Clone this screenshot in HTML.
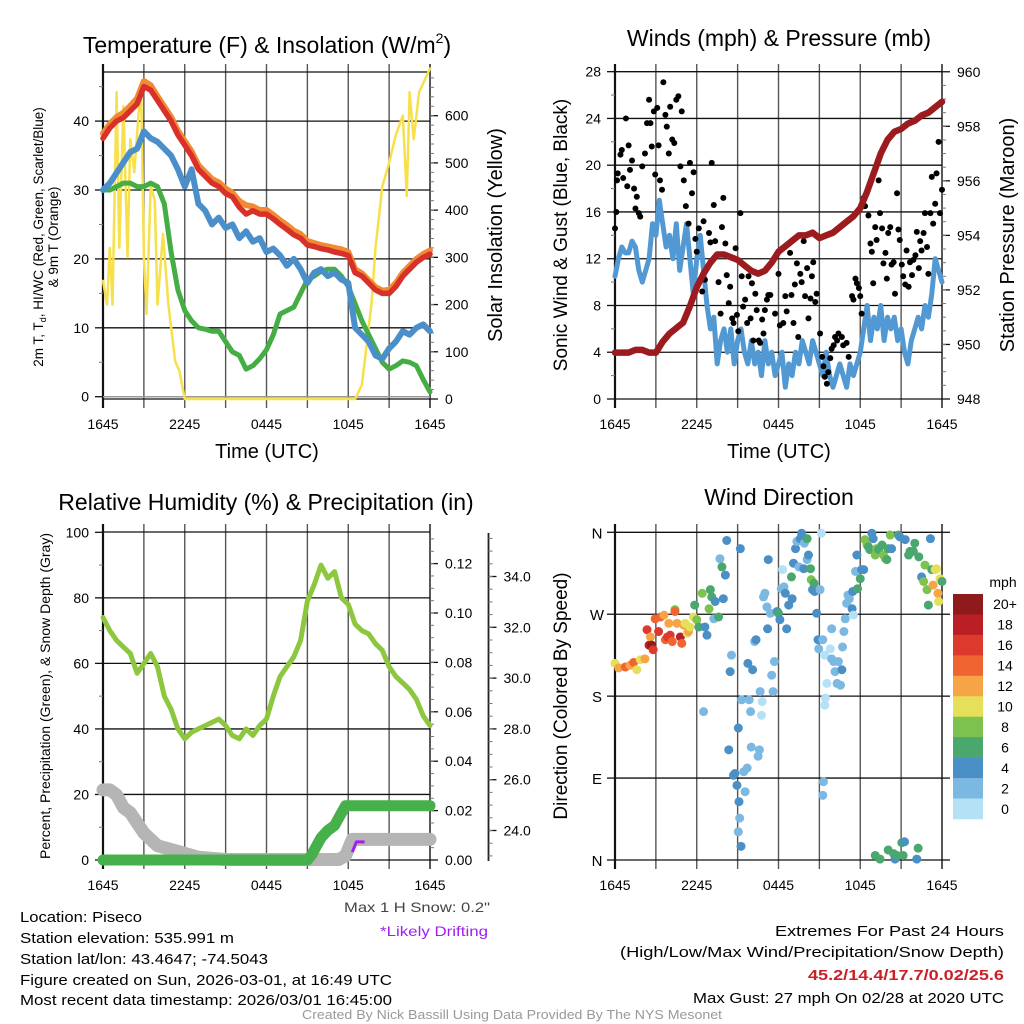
<!DOCTYPE html>
<html><head><meta charset="utf-8">
<style>
html,body{margin:0;padding:0;background:#fff;}
svg{display:block;font-family:"Liberation Sans",sans-serif;}
</style></head>
<body>
<svg id="root" width="1024" height="1024" viewBox="0 0 1024 1024" xmlns="http://www.w3.org/2000/svg">
<g id="texts">
<text x="267" y="53" font-size="23" text-anchor="middle">Temperature (F) &amp; Insolation (W/m<tspan font-size="14" dy="-10">2</tspan><tspan dy="10">)</tspan></text>
<text x="779" y="46" font-size="23" text-anchor="middle">Winds (mph) &amp; Pressure (mb)</text>
<text x="266" y="510" font-size="23" text-anchor="middle">Relative Humidity (%) &amp; Precipitation (in)</text>
<text x="779" y="505" font-size="23" text-anchor="middle">Wind Direction</text>
<text x="267" y="458" font-size="20" text-anchor="middle">Time (UTC)</text>
<text x="779" y="458" font-size="20" text-anchor="middle">Time (UTC)</text>
<text transform="translate(43,237) rotate(-90)" font-size="13.5" text-anchor="middle">2m T, T<tspan font-size="9" dy="3">d</tspan><tspan dy="-3">, HI/WC (Red, Green, Scarlet/Blue)</tspan></text>
<text transform="translate(58,237) rotate(-90)" font-size="13.5" text-anchor="middle">&amp; 9m T (Orange)</text>
<text transform="translate(502,235) rotate(-90)" font-size="20" text-anchor="middle">Solar Insolation (Yellow)</text>
<text transform="translate(567,235) rotate(-90)" font-size="19" text-anchor="middle">Sonic Wind &amp; Gust (Blue, Black)</text>
<text transform="translate(1014,235) rotate(-90)" font-size="20" text-anchor="middle">Station Pressure (Maroon)</text>
<text transform="translate(50,696) rotate(-90)" font-size="14" text-anchor="middle">Percent, Precipitation (Green), &amp; Snow Depth (Gray)</text>
<text transform="translate(567,696) rotate(-90)" font-size="19" text-anchor="middle">Direction (Colored By Speed)</text>
<text x="1003" y="587" font-size="14" text-anchor="middle">mph</text>
<text x="490" y="912" font-size="14" fill="#444" text-anchor="end" textLength="146" lengthAdjust="spacingAndGlyphs">Max 1 H Snow: 0.2"</text>
<text x="488" y="936" font-size="14" fill="#a020f0" text-anchor="end" textLength="108" lengthAdjust="spacingAndGlyphs">*Likely Drifting</text>
<g font-size="15">
<text x="20" y="922" textLength="122" lengthAdjust="spacingAndGlyphs">Location: Piseco</text>
<text x="20" y="943" textLength="214" lengthAdjust="spacingAndGlyphs">Station elevation: 535.991 m</text>
<text x="20" y="964" textLength="248" lengthAdjust="spacingAndGlyphs">Station lat/lon: 43.4647; -74.5043</text>
<text x="20" y="985" textLength="372" lengthAdjust="spacingAndGlyphs">Figure created on Sun, 2026-03-01, at 16:49 UTC</text>
<text x="20" y="1005" textLength="372" lengthAdjust="spacingAndGlyphs">Most recent data timestamp: 2026/03/01 16:45:00</text>
</g>
<g font-size="15" text-anchor="end">
<text x="1004" y="936" textLength="229" lengthAdjust="spacingAndGlyphs">Extremes For Past 24 Hours</text>
<text x="1004" y="957" textLength="384" lengthAdjust="spacingAndGlyphs">(High/Low/Max Wind/Precipitation/Snow Depth)</text>
<text x="1004" y="980" font-weight="bold" fill="#cc2027" textLength="196" lengthAdjust="spacingAndGlyphs">45.2/14.4/17.7/0.02/25.6</text>
<text x="1004" y="1003" textLength="311" lengthAdjust="spacingAndGlyphs">Max Gust: 27 mph On 02/28 at 2020 UTC</text>
</g>
<text x="512" y="1019" font-size="12.5" fill="#999" text-anchor="middle" textLength="420" lengthAdjust="spacingAndGlyphs">Created By Nick Bassill Using Data Provided By The NYS Mesonet</text>
</g>
</svg>
<script>
// ---------- DATA ----------
const xTickLabels = ["1645","2245","0445","1045","1645"];
// Panel 1 (half-hourly from 1645)
const temp2m = [37.5,39,40,40.5,41.5,42.5,45,44.5,43,41.5,40,38,36.5,35,33,32,31,30.5,29.5,29,27.5,26.5,27,26.5,26.5,25.8,25,24.3,23.5,23,22,21.8,21.5,21.3,21,20.8,20.5,18,17.5,16.5,15.5,15,15,16,17.5,18.5,19.5,20.2,20.7];
const temp9m = [38.2,39.6,40.6,41.2,42.2,43.3,45.8,45.2,43.6,42.1,40.6,38.6,37.1,35.6,33.6,32.6,31.6,31.1,30.2,29.6,28.4,27.8,27.6,27.1,27.1,26.4,25.6,24.9,24.1,23.6,22.6,22.3,22.0,21.8,21.6,21.4,21.0,18.5,17.9,16.9,15.9,15.4,15.5,16.5,18,19,20,20.7,21.2];
const windChill = [30,31,32.5,34,35.5,36,38.5,37.5,37,36,35,33,30.5,33,28,27,25,26,24.5,25,23,24,22.5,23,21,21.5,20.5,19,20,18.5,16.5,18,18.5,17.5,18,17,16.5,10,9,8,6,5.5,7,8,9.5,9,10,10.5,9.5];
const dewPoint = [30,30,30.5,31,31,30.5,30.5,31,30.5,28,21,15.5,12.5,11,10,9.8,9.5,9.5,8,6.5,6,4,4.5,5.5,6.8,9,12,12.5,13,15,17,17.5,18.2,18.5,18.5,17.5,16,13.5,11,9,7,5,4,4.5,5.2,5,4.5,2.5,0.7];
const solarT = [0,0.3,0.5,0.7,1,1.2,1.5,1.8,2,2.3,2.6,2.8,3,3.2,3.5,3.8,4,4.4,4.8,5.3,5.6,6,18.5,19,19.7,20,20.5,21,21.5,22,22.3,22.5,22.8,23.2,24];
const solarV = [250,200,320,200,650,320,620,300,550,480,600,650,300,180,450,420,200,350,200,80,60,0,0,30,200,320,450,500,560,600,430,650,550,650,700];
// Panel 2 (wind speed quarter-hourly)
const windSpeed = [10.5,12,13,12.5,12.5,13.5,13,11,10,11,12,15,14,17,15,13,14,12,15,11,13,15,12,9,12,14,11,8,6,7,3,5,6,4,6,3,5,6,4,3,5,3,4,2,5,3,4,2,3,4,1,3,2,4,3,5,4,3,5,4,3,2,4,2,1,2,3,2,1,3,2,3,4,6,8,5,7,6,8,5,7,6,7,5,6,4,3,5,6,7,6,8,7,9,12,11,10];
const pressure = [949.7,949.7,949.7,949.8,949.8,949.7,949.7,950.1,950.4,950.6,950.8,951.4,952.1,952.6,953.0,953.3,953.3,953.2,953.1,952.9,952.7,952.6,952.7,953.0,953.4,953.6,953.8,954.0,954.0,954.1,953.9,954.0,954.1,954.3,954.5,954.7,955.0,955.6,956.3,957.0,957.5,957.8,957.9,958.1,958.2,958.4,958.5,958.7,958.9];
const gustT = [0,0.1,0.15,0.2,0.4,0.5,0.8,0.6,0.9,1,1.1,1.25,1.4,1.5,1.6,1.75,1.85,2,2.2,2.35,2.5,2.6,2.7,2.85,2.95,3.1,3.2,3.3,3.45,3.55,3.7,3.8,3.95,4.05,4.2,4.35,4.5,4.65,4.8,4.9,5.05,5.2,5.4,5.5,5.65,5.77,5.9,6,6.15,6.4,6.5,6.6,6.9,7,7.1,7.25,7.35,7.6,7.75,7.85,7.95,8.1,8.2,8.35,8.45,8.6,8.7,8.85,8.95,9.05,9.2,9.3,9.4,9.55,9.7,9.8,9.95,10.05,10.15,10.3,10.4,10.55,10.65,10.8,10.9,11,11.15,11.25,11.4,11.75,12,12.1,12.35,12.5,12.6,12.85,12.95,13.1,13.2,13.35,13.45,13.6,13.7,13.85,13.95,14.1,14.2,14.35,14.45,14.55,14.7,14.8,15.05,15.2,15.3,15.4,15.55,15.65,15.8,15.9,16.05,16.15,16.3,16.4,16.65,16.75,17,17.15,17.4,17.5,17.65,17.75,17.9,18,18.1,18.25,18.35,18.6,18.75,18.85,18.95,19.1,19.2,19.35,19.45,19.6,19.7,19.85,19.95,20.05,20.2,20.3,20.45,20.55,20.7,20.8,20.9,21.05,21.15,21.3,21.4,21.55,21.65,21.8,21.9,22.05,22.15,22.3,22.4,22.5,22.65,22.75,22.9,23,23.15,23.25,23.35,23.5,23.6,23.75,23.85,24];
const gustV = [14.6,16,18.7,19.3,20.9,21.3,24,18.9,18.2,21.7,19.6,20.4,18,16.3,17.3,15.9,15.6,19.9,21,23.6,25.6,23.6,21.6,24.6,19.2,24.9,21.7,18.7,17.9,27.1,24.3,23.3,21,25,22.2,21.9,25.6,25.9,19.9,24.6,18.7,16.5,15,20.2,17.6,19.4,13.7,12.6,14.6,9.2,15.2,10.2,14.2,13.4,20.2,16.6,13.5,10,7.3,14.7,17.2,13.3,10.6,8.2,9.6,6.9,6.5,12.9,7.2,5.8,15.9,10.5,7.9,8.5,6.5,10.5,6.9,9.9,5,9,7.6,5,4.8,6.8,5.6,7.6,8.5,8.9,8.9,7.3,10.7,6.3,6.5,8.8,7.5,12.5,8.9,6.5,9.8,11.6,5.3,10.7,10,13.5,8.8,11.2,6.9,8.6,10.5,11.7,8.3,9,5.6,3.6,2.8,1.9,1.3,2.3,3.5,4.3,4.6,5.3,5,5.6,5.3,4.6,4.8,3.6,8.8,8.5,10.3,9.9,9.5,8.8,7.3,17.2,16.5,15.7,13.3,12.6,9.9,14.7,13.6,18.7,15.9,14.6,11.6,12.5,10.3,14.2,14.7,11.5,11.7,9,17.6,14.5,13.6,11.5,10.5,9.8,12.7,9.6,11.7,10.6,11.9,12.3,14.3,11.2,13.5,12.7,14.2,15.9,13,10.7,15.9,19,15,16.7,19.3,22,15.9,17.9];
// Panel 3
const relHum = [74,70,67,65,63,57,60,63,59,50,46,40,37,39,40,41,42,43,41,38,37,40,38,41,43,50,56,59,62,67,79,84,90,86,88,80,78,72,70,69,66,64,59,56,54,52,49,44,41];
const snowT = [0,0.5,1,1.5,2,2.5,3,4,5,6,7,8,9,17.3,17.8,18.3,24];
const snowV = [25.6,25.6,25.4,24.9,24.7,24.3,23.9,23.4,23.25,23.1,22.95,22.9,22.86,22.86,23.0,23.65,23.65];
const driftT = [18.3,18.6,19.2];
const driftV = [23.15,23.55,23.55];
const precipT = [0,15,15.3,15.7,16,16.5,17,17.5,17.8,24];
const precipV = [0,0,0.002,0.006,0.009,0.012,0.014,0.019,0.022,0.022];
// Panel 4
const dirT = [0,0.27,0.76,1.1,1.37,1.6,1.86,2.2,2.35,2.5,2.6,2.7,2.8,2.95,3.2,3.35,3.6,3.7,3.85,3.95,4.05,4.2,4.4,4.4,4.55,4.8,4.9,5.05,5.15,5.3,5.4,5.5,5.75,5.85,6,6.15,6.4,6.5,6.6,6.75,6.9,7,7.1,7.25,7.35,7.6,7.7,7.85,7.95,8.1,8.2,8.35,8.45,8.55,8.7,8.8,8.95,9.05,9.1,9.2,9.15,9.25,9.05,9.3,9.45,9.55,9.7,9.75,9.85,9.95,10,10.1,10.25,10.35,10.5,10.6,10.65,10.8,10.75,10.9,11,11.15,11.2,11.25,11.4,11.5,11.6,11.7,11.9,12,12.1,12.2,12.3,12.4,12.5,12.6,12.75,12.95,13,13.1,13.25,13.35,13.5,13.6,13.7,13.85,13.9,14.1,14.1,14.2,14.35,14.4,14.5,14.6,14.65,14.8,14.9,14.95,15.05,15.15,15.25,15.4,15.45,15.4,15.3,15.25,15.55,15.8,15.9,15.9,16.05,16.15,16.3,16.4,16.55,16.65,16.7,16.8,16.9,17,17.1,17.2,17.4,17.45,17.5,17.65,17.75,17.8,18,18.1,18.25,18.35,18.5,18.6,18.7,18.85,18.95,19.1,19.2,19.35,19.6,19.7,19.85,19.95,20.05,20.2,20.3,20.8,20.9,21.3,21.55,21.65,21.9,22,22.3,22.5,22.65,22.75,22.9,23,23.15,23.25,23.35,23.5,23.6,23.7,23.75,23.85,24,19.1,19.45,20.05,20.45,20.55,20.7,21.05,21.25,21.15,22.15,22.25];
const dirDeg = [216,211,212,214,217,209,220,221,253,236,245,236,231,265,251,267,269,242,245,260,247,240,275,273,260,245,238,258,260,249,251,256,267,280,264,256,293,163,256,247,276,297,289,265,284,267,331,322,287,313,351,121,207,225,93,95,82,145,64,342,46,15,31,176,97,75,101,216,176,163,124,209,240,242,114,121,185,174,159,289,293,278,254,330,271,203,185,218,273,271,264,298,319,300,293,254,280,311,287,326,342,350,322,353,359,320,348,353,330,335,320,308,297,304,295,271,242,232,297,359,242,225,178,170,86,71,194,232,221,254,218,207,194,218,192,209,234,251,265,282,291,287,276,295,269,317,335,298,309,319,319,352,346,344,341,359,353,335,342,341,346,335,331,330,342,357,342,357,355,352,335,339,339,348,333,311,306,324,297,280,353,319,302,319,320,293,284,309,306,5,1,11,7,1,5,19,20,5,1,13];
const dirSpeed = [10,12,14,12,14,10,10,12,16,18,12,20,16,14,16,14,12,14,16,12,16,14,8,14,12,18,14,12,10,10,12,10,10,6,8,6,8,2,4,4,8,6,6,2,4,6,2,6,4,4,4,4,4,2,4,4,4,4,4,4,2,4,2,2,2,2,2,4,2,2,2,4,2,4,2,2,2,0,0,2,2,2,4,4,2,2,2,2,4,6,4,2,0,2,4,4,4,6,4,4,4,2,2,4,4,4,2,6,2,4,6,8,4,6,4,4,4,2,2,0,2,0,0,0,2,2,0,0,2,2,2,2,2,2,2,4,2,2,2,2,2,2,4,4,0,2,4,6,6,4,4,8,8,6,6,4,4,8,8,6,6,8,8,6,6,8,4,6,4,4,6,6,6,6,6,4,8,8,8,6,4,6,12,10,10,12,10,10,6,6,6,6,6,4,6,6,4,6,4,6];
const cbarLabels = ["20+","18","16","14","12","10","8","6","4","2","0"];
const cbarColors = ["#8e1a1c","#bb1f26","#dc3a2c","#ef6431","#f6a546","#e6df5a","#7dc14f","#4aa76d","#4a8fc6","#7bb8e2","#b5e1f6"];

// ---------- DRAW ----------
const NS = "http://www.w3.org/2000/svg";
const root = document.getElementById("root");
function mk(tag, attrs, parent){
  const e = document.createElementNS(NS, tag);
  for (const k in attrs) e.setAttribute(k, attrs[k]);
  (parent||root).appendChild(e);
  return e;
}
const W = 327;
function hx(x0){ return h => x0 + h * W / 24; }
function seriesPath(ts, vs, fx, fy){
  return ts.map((t,i)=> (i? "L":"M") + fx(t).toFixed(1) + "," + fy(vs[i]).toFixed(1)).join(" ");
}
function evenT(arr){ return arr.map((_,i)=> i*24/(arr.length-1)); }

function frame(x0, yTop, yBot, name, hGridYs){
  const g = mk("g", {});
  
  
  for (let k=0;k<=8;k++){
    const x = x0 + k*W/8;
    const l = mk("line",{x1:x,x2:x,y1:yTop-8,y2:yBot+9,stroke: (k===0||k===8)?"#111":"#555","stroke-width":(k===0)?2.2:1.4},g);
    
    
  }
  hGridYs.forEach(y=>{
    const l = mk("line",{x1:x0,x2:x0+W,y1:y,y2:y,stroke:"#111","stroke-width":1.3},g);
    
    
  });
  xTickLabels.forEach((lab,i)=>{
    const t = mk("text",{x:x0+i*W/4,y:yBot+30,"font-size":14,"text-anchor":"middle"},g);
    t.textContent = lab;
    
    
  });
  return g;
}
function leftAxis(x0, fy, majors, minors, fmt, name){
  const g = mk("g",{});
  
  
  majors.forEach(v=>{
    mk("line",{x1:x0-8,x2:x0,y1:fy(v),y2:fy(v),stroke:"#111","stroke-width":1.3},g);
    const t = mk("text",{x:x0-14,y:fy(v)+5,"font-size":14,"text-anchor":"end"},g);
    t.textContent = fmt(v);
    
    
  });
  minors.forEach(v=> mk("line",{x1:x0-4,x2:x0,y1:fy(v),y2:fy(v),stroke:"#777","stroke-width":1},g));
}
function rightAxis(x, fy, majors, minors, fmt, name, yTop, yBot, drawLine){
  const g = mk("g",{});
  
  
  if (drawLine) mk("line",{x1:x,x2:x,y1:yTop,y2:yBot,stroke:"#222","stroke-width":1.8},g);
  majors.forEach(v=>{
    mk("line",{x1:x,x2:x+8,y1:fy(v),y2:fy(v),stroke:"#111","stroke-width":1.3},g);
    const t = mk("text",{x:x+15,y:fy(v)+5,"font-size":14},g);
    t.textContent = fmt(v);
    
    
  });
  minors.forEach(v=> mk("line",{x1:x,x2:x+4,y1:fy(v),y2:fy(v),stroke:"#777","stroke-width":1},g));
}
function range(a,b,s){ const r=[]; for(let v=a; v<=b+1e-9; v+=s) r.push(+v.toFixed(4)); return r; }
function line(d, color, w, name, cap){
  const p = mk("path",{d:d,fill:"none",stroke:color,"stroke-width":w,"stroke-linejoin":"round","stroke-linecap":cap||"round"});
  
  
  return p;
}

// Panel 1
{
  const fx = hx(103);
  const fy = v => 396.7 - v*6.89;
  const fyR = v => 399 - v*0.4722;
  frame(103, 72, 399, "temp", [72, fy(10), fy(20), fy(30), fy(40), 399]);
  mk("line",{x1:103,x2:430,y1:fy(0),y2:fy(0),stroke:"#999","stroke-width":1.5});
  leftAxis(103, fy, [0,10,20,30,40], [5,15,25,35,45], v=>String(v), "temp-y-axis");
  rightAxis(430, fyR, [0,100,200,300,400,500,600], range(20,680,20), v=>String(v), "solar-y-axis", 72, 399, false);
  line(seriesPath(solarT, solarV, fx, fyR), "#f7e04b", 2.5, "solar-insolation-line");
  line(seriesPath(evenT(dewPoint), dewPoint, fx, fy), "#44ad44", 5, "dewpoint-line");
  line(seriesPath(evenT(windChill), windChill, fx, fy), "#4a8fc9", 6, "wind-chill-line");
  line(seriesPath(evenT(temp9m), temp9m, fx, fy), "#f08a33", 6, "temp-9m-line");
  line(seriesPath(evenT(temp2m), temp2m, fx, fy), "#d9302a", 5.5, "temp-2m-line");
}
// Panel 2
{
  const x0 = 615, fx = hx(x0);
  const fy = v => 399 - v*11.69;
  const fyP = p => 399 - (p-948)*27.27;
  frame(x0, 72, 399, "wind", [fy(4),fy(8),fy(12),fy(16),fy(20),fy(24),fy(28),399]);
  leftAxis(x0, fy, [0,4,8,12,16,20,24,28], [2,6,10,14,18,22,26], v=>String(v), "wind-y-axis");
  rightAxis(x0+W, fyP, [948,950,952,954,956,958,960], range(948.5,959.5,0.5), v=>String(v), "pressure-y-axis", 72, 399, false);
  line(seriesPath(evenT(windSpeed), windSpeed, fx, fy), "#5299d3", 5, "wind-speed-line");
  gustT.forEach((t,i)=>{
    const c = mk("circle",{cx:fx(t),cy:fy(gustV[i]),r:3,fill:"#000"});
    
    
  });
  line(seriesPath(evenT(pressure), pressure, fx, fyP), "#9b1b1e", 6.5, "pressure-line");
}
// Panel 3
{
  const x0 = 103, fx = hx(x0);
  const fy = v => 860 - v*3.277;
  const fyI = v => 860 - v*2470;
  const fyS = v => 830.5 - (v-24)*25.4;
  frame(x0, 532, 860, "rh", [532, fy(20), fy(40), fy(60), fy(80), 860]);
  leftAxis(x0, fy, [0,20,40,60,80,100], [10,30,50,70,90], v=>String(v), "rh-y-axis");
  rightAxis(x0+W, fyI, range(0,0.12,0.02), range(0.005,0.13,0.005), v=>v.toFixed(2), "precip-y-axis", 532, 860, false);
  rightAxis(488.5, fyS, [24,26,28,30,32,34], range(23,35.5,0.5), v=>v.toFixed(1), "snow-y-axis", 533, 861, true);
  line(seriesPath(snowT, snowV, fx, fyS), "#b5b5b5", 13, "snow-depth-line");
  line(seriesPath(precipT, precipV, fx, fyI), "#46b04a", 11, "precip-line");
  line(seriesPath(evenT(relHum), relHum, fx, fy), "#8dc63f", 5, "rel-humidity-line");
  line(seriesPath(driftT, driftV, fx, fyS), "#a020f0", 3, "drifting-line", "butt");
}
// Panel 4
{
  const x0 = 615, fx = hx(x0);
  const fy = d => 860 - d*0.9103;
  frame(x0, 532, 860, "dir", [fy(0),fy(90),fy(180),fy(270),fy(360)]);
  ["N","E","S","W","N"].forEach((lab,i)=>{
    const y = fy(i*90);
    mk("line",{x1:x0-8,x2:x0,y1:y,y2:y,stroke:"#111","stroke-width":1.3});
    mk("line",{x1:x0+W,x2:x0+W+8,y1:y,y2:y,stroke:"#111","stroke-width":1.3});
    const t = mk("text",{x:x0-18,y:y+6,"font-size":15,"text-anchor":"middle"});
    t.textContent = lab;
    
    
  });
  dirT.forEach((t,i)=>{
    const idx = Math.max(0, Math.min(10, Math.round(dirSpeed[i]/2)));
    const c = mk("circle",{cx:fx(t),cy:fy(dirDeg[i]),r:4.5,fill:cbarColors[10-idx]});
    
    
  });
  const bh = 225/11;
  cbarLabels.forEach((lab,i)=>{
    const r = mk("rect",{x:953,y:594+i*bh,width:30,height:bh+0.3,fill:cbarColors[i]});
    
    
    const t = mk("text",{x:1005,y:594+i*bh+bh/2+5,"font-size":14,"text-anchor":"middle"});
    t.textContent = lab;
    
    
  });
}
</script>
</body></html>
